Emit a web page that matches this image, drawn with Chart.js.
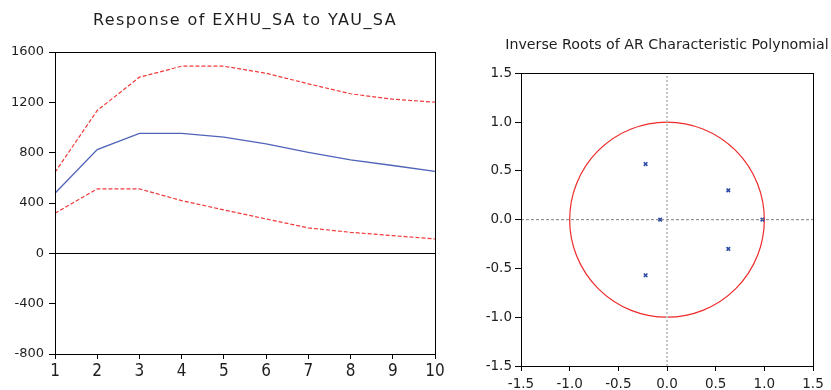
<!DOCTYPE html>
<html><head><meta charset="utf-8">
<script src="https://cdn.jsdelivr.net/npm/chart.js@4/dist/chart.umd.min.js"></script>
<style>
html,body{margin:0;padding:0;background:#fff;width:831px;height:390px;overflow:hidden;position:relative}
#c1{position:absolute;left:0;top:0}
#c2{position:absolute;left:455px;top:0}
</style></head><body>
<canvas id="c1" width="490" height="390"></canvas>
<canvas id="c2" width="424" height="390"></canvas>
<script>
// ---- data ----
const periods = ['1','2','3','4','5','6','7','8','9','10'];
const response = [477, 825, 954, 954, 923, 870, 803, 743, 698, 652];
const upperBand = [644, 1135, 1400, 1487, 1487, 1431, 1347, 1268, 1225, 1201];
const lowerBand = [318, 512, 512, 419, 345, 273, 202, 167, 141, 114];
const respTicks = [-800, -400, 0, 400, 800, 1200, 1600];
const rootsRe = [-0.22, -0.22, 0.63, 0.63, -0.07, 0.98];
const rootsIm = [0.57, -0.57, 0.30, -0.30, 0.00, 0.00];
const rootTicks = [-1.5, -1.0, -0.5, 0.0, 0.5, 1.0, 1.5];
const unitRadius = 1;
const leftTitle = 'Response of EXHU_SA to YAU_SA';
const rightTitle = 'Inverse Roots of AR Characteristic Polynomial';

// ---- helpers ----
const TXT = '#1e1e1e';
const boxPlugin = {
  id: 'box',
  afterDraw(chart) {
    const {ctx, chartArea: a} = chart;
    ctx.save();
    ctx.strokeStyle = '#000'; ctx.lineWidth = 1; ctx.setLineDash([]);
    ctx.strokeRect(Math.round(a.left) + 0.5, Math.round(a.top) + 0.5,
      Math.round(a.right) - Math.round(a.left), Math.round(a.bottom) - Math.round(a.top));
    ctx.restore();
  }
};
const spacingPlugin = {
  id: 'spacing',
  beforeUpdate(chart) { chart.ctx.letterSpacing = '0px'; },
  beforeDraw(chart) { chart.ctx.letterSpacing = '1.4px'; },
  beforeDatasetsDraw(chart) { chart.ctx.letterSpacing = '0px'; },
  afterDraw(chart) { chart.ctx.letterSpacing = '0px'; }
};
const circlePlugin = {
  id: 'unitCircle',
  beforeDatasetsDraw(chart) {
    const {ctx, scales: {x, y}} = chart;
    const cx = x.getPixelForValue(0), cy = y.getPixelForValue(0);
    const rx = x.getPixelForValue(unitRadius) - cx;
    const ry = cy - y.getPixelForValue(unitRadius);
    ctx.save();
    ctx.strokeStyle = '#ee2a2a'; ctx.lineWidth = 1.2;
    ctx.beginPath(); ctx.ellipse(cx, cy, rx, ry, 0, 0, Math.PI * 2); ctx.stroke();
    ctx.restore();
  }
};
// invisible right-hand spacer axis so the title centres over the plot area
const spacerAxis = w => ({
  type: 'linear', position: 'right', display: true,
  grid: {display: false, drawTicks: false}, border: {display: false},
  ticks: {display: false},
  afterFit: s => { s.width = w; }
});

// ---- left chart ----
new Chart(document.getElementById('c1'), {
  type: 'line',
  data: {
    labels: periods,
    datasets: [
      {data: upperBand, borderColor: '#f23a3a', borderWidth: 1.2, borderDash: [4, 2], pointRadius: 0, fill: false, tension: 0},
      {data: lowerBand, borderColor: '#f23a3a', borderWidth: 1.2, borderDash: [4, 2], pointRadius: 0, fill: false, tension: 0},
      {data: response, borderColor: '#4f63b8', borderWidth: 1.3, pointRadius: 0, fill: false, tension: 0}
    ]
  },
  options: {
    responsive: false, animation: false, devicePixelRatio: 1,
    layout: {padding: 0},
    plugins: {
      legend: {display: false}, tooltip: {enabled: false},
      title: {display: true, text: leftTitle, color: TXT,
        font: {family: 'DejaVu Sans', size: 16, weight: 'normal'},
        padding: {top: 11.4, bottom: 21.4}}
    },
    scales: {
      x: {
        offset: false,
        grid: {drawOnChartArea: false, drawTicks: true, tickLength: 5, tickColor: '#000'},
        border: {display: false},
        ticks: {z: 1, color: TXT, padding: 2, maxRotation: 0, autoSkip: false,
          font: {family: "'Liberation Sans Narrow', 'DejaVu Sans Condensed', 'Liberation Sans'", size: 17}},
        afterFit: s => { s.height = 36; }
      },
      y: {
        min: -800, max: 1600,
        afterBuildTicks: s => { s.ticks = respTicks.map(v => ({value: v})); },
        grid: {drawOnChartArea: true, drawTicks: true, tickLength: 6, tickColor: '#000',
          color: c => (c.tick && c.tick.value === 0) ? '#000' : 'rgba(0,0,0,0)', lineWidth: 1},
        border: {display: false},
        ticks: {z: 1, color: TXT, padding: 5, font: {family: 'DejaVu Sans', size: 13},
          callback: v => String(v)},
        afterFit: s => { s.width = 55; }
      },
      yR: spacerAxis(55)
    }
  },
  plugins: [spacingPlugin, boxPlugin]
});

// ---- right chart ----
const rootPoints = rootsRe.map((r, i) => ({x: r, y: rootsIm[i]}));
const lo = rootTicks[0], hi = rootTicks[rootTicks.length - 1];
new Chart(document.getElementById('c2'), {
  type: 'scatter',
  data: {
    datasets: [
      {type: 'line', data: [{x: 0, y: lo}, {x: 0, y: hi}], borderColor: '#c4c4c4', borderWidth: 2, borderDash: [2, 2], pointRadius: 0},
      {type: 'line', data: [{x: lo, y: 0}, {x: hi, y: 0}], borderColor: '#808080', borderWidth: 1, borderDash: [3, 2], pointRadius: 0},
      {data: rootPoints, pointStyle: 'crossRot', pointRadius: 2.5, borderColor: '#2d4aa6', borderWidth: 1.6, backgroundColor: '#2d4aa6'}
    ]
  },
  options: {
    responsive: false, animation: false, devicePixelRatio: 1,
    layout: {padding: 0},
    plugins: {
      legend: {display: false}, tooltip: {enabled: false},
      title: {display: true, text: rightTitle, color: TXT,
        font: {family: 'DejaVu Sans', size: 14.2, weight: 'normal'},
        padding: {top: 37, bottom: 19.3}}
    },
    scales: {
      x: {
        type: 'linear', min: lo, max: hi,
        afterBuildTicks: s => { s.ticks = rootTicks.map(v => ({value: v})); },
        grid: {drawOnChartArea: false, drawTicks: true, tickLength: 5, tickColor: '#000'},
        border: {display: false},
        ticks: {color: TXT, padding: 5, maxRotation: 0, font: {family: 'DejaVu Sans', size: 13.5},
          callback: v => v.toFixed(1)},
        afterFit: s => { s.height = 24; }
      },
      y: {
        type: 'linear', min: lo, max: hi,
        afterBuildTicks: s => { s.ticks = rootTicks.map(v => ({value: v})); },
        grid: {drawOnChartArea: false, drawTicks: true, tickLength: 6, tickColor: '#000'},
        border: {display: false},
        ticks: {color: TXT, padding: 3, font: {family: 'DejaVu Sans', size: 13.5},
          callback: v => v.toFixed(1)},
        afterFit: s => { s.width = 66; }
      },
      yR: spacerAxis(66)
    }
  },
  plugins: [circlePlugin, boxPlugin]
});
</script>
</body></html>
